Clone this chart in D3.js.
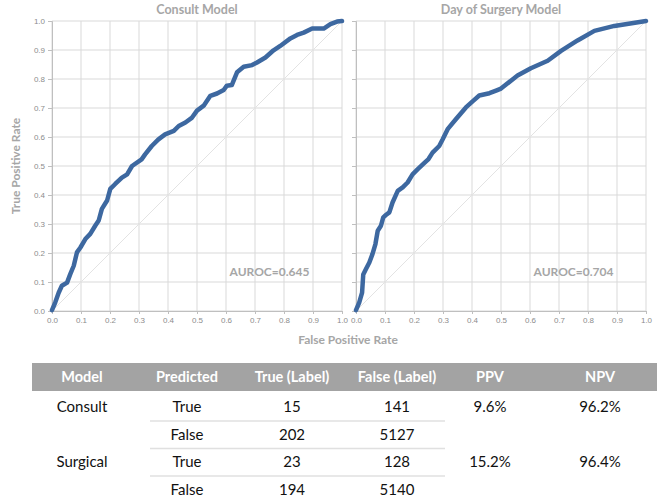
<!DOCTYPE html>
<html>
<head>
<meta charset="utf-8">
<script src="https://cdn.jsdelivr.net/npm/d3@7"></script>
<style>
  body { margin: 0; background: #fff; }
  svg { font-family: Lato, "Open Sans", sans-serif; }
</style>
</head>
<body>
<div id="chart"></div>
<script>
// ROC data
var consultFpr = [0, 0.011, 0.023, 0.034, 0.052, 0.063, 0.075, 0.086, 0.098, 0.115, 0.132, 0.149, 0.161, 0.172, 0.19, 0.201, 0.218, 0.241, 0.259, 0.276, 0.309, 0.321, 0.344, 0.367, 0.39, 0.42, 0.437, 0.46, 0.483, 0.5, 0.523, 0.546, 0.569, 0.592, 0.603, 0.62, 0.638, 0.661, 0.69, 0.707, 0.736, 0.764, 0.787, 0.822, 0.845, 0.868, 0.897, 0.937, 0.96, 0.983, 1.0];
var consultTpr = [0.003, 0.029, 0.063, 0.087, 0.098, 0.127, 0.156, 0.202, 0.219, 0.248, 0.266, 0.294, 0.312, 0.352, 0.381, 0.421, 0.438, 0.46, 0.471, 0.5, 0.523, 0.54, 0.569, 0.592, 0.609, 0.621, 0.638, 0.65, 0.667, 0.691, 0.708, 0.742, 0.75, 0.762, 0.777, 0.779, 0.823, 0.842, 0.848, 0.857, 0.874, 0.899, 0.914, 0.94, 0.952, 0.96, 0.974, 0.974, 0.989, 0.998, 1.0];

var surgeryFpr = [0, 0.011, 0.021, 0.025, 0.034, 0.046, 0.057, 0.067, 0.075, 0.086, 0.094, 0.103, 0.115, 0.126, 0.144, 0.161, 0.178, 0.195, 0.213, 0.235, 0.25, 0.264, 0.287, 0.299, 0.316, 0.345, 0.379, 0.402, 0.425, 0.46, 0.483, 0.5, 0.557, 0.603, 0.661, 0.707, 0.764, 0.822, 0.891, 1.0];
var surgeryTpr = [0.003, 0.029, 0.063, 0.126, 0.144, 0.167, 0.197, 0.231, 0.277, 0.294, 0.323, 0.331, 0.34, 0.374, 0.414, 0.426, 0.443, 0.471, 0.489, 0.51, 0.524, 0.546, 0.569, 0.592, 0.627, 0.662, 0.702, 0.723, 0.743, 0.751, 0.76, 0.767, 0.812, 0.837, 0.863, 0.897, 0.933, 0.966, 0.983, 1.0];

var chartTitles = ["Consult Model", "Day of Surgery Model"];
var aurocLabels = ["AUROC=0.645", "AUROC=0.704"];
var tickValues = [0, 0.1, 0.2, 0.3, 0.4, 0.5, 0.6, 0.7, 0.8, 0.9, 1.0];

// table
var tableHeaders = ["Model", "Predicted", "True (Label)", "False (Label)", "PPV", "NPV"];
var tableModels = ["Consult", "", "Surgical", ""];
var tablePredicted = ["True", "False", "True", "False"];
var tableTrueLabel = [15, 202, 23, 194];
var tableFalseLabel = [141, 5127, 128, 5140];
var tablePpv = ["9.6%", "", "15.2%", ""];
var tableNpv = ["96.2%", "", "96.4%", ""];

var W = 657, H = 498;
var grey = "#a6a6a6", gridColor = "#d9d9d9", lineColor = "#3d68a0";

var svg = d3.select("#chart").append("svg")
    .attr("width", W)
    .attr("height", H);

var plotW = 290, plotH = 290, plotTop = 21;
var plotLefts = [52, 356];
var series = [
  consultFpr.map(function (d, i) { return [d, consultTpr[i]]; }),
  surgeryFpr.map(function (d, i) { return [d, surgeryTpr[i]]; })
];

plotLefts.forEach(function (left, p) {
  var x = d3.scaleLinear().domain([0, 1]).range([0, plotW]);
  var y = d3.scaleLinear().domain([0, 1]).range([plotH, 0]);

  var g = svg.append("g")
      .attr("transform", "translate(" + left + "," + plotTop + ")");

  // grid
  g.selectAll(".vgrid").data(tickValues).enter().append("line")
      .attr("x1", function (d) { return x(d); })
      .attr("x2", function (d) { return x(d); })
      .attr("y1", 0).attr("y2", plotH)
      .attr("stroke", gridColor).attr("stroke-width", 1);
  g.selectAll(".hgrid").data(tickValues).enter().append("line")
      .attr("y1", function (d) { return y(d); })
      .attr("y2", function (d) { return y(d); })
      .attr("x1", 0).attr("x2", plotW)
      .attr("stroke", gridColor).attr("stroke-width", 1);

  // chance diagonal
  g.append("line")
      .attr("x1", x(0)).attr("y1", y(0))
      .attr("x2", x(1)).attr("y2", y(1))
      .attr("stroke", "#e3e3e3").attr("stroke-width", 1);

  // axes
  var xAxis = g.append("g")
      .attr("transform", "translate(0," + plotH + ")")
      .call(d3.axisBottom(x).tickValues(tickValues).tickFormat(d3.format(".1f")).tickSize(3));
  var yAxis = g.append("g")
      .call(d3.axisLeft(y).tickValues(tickValues)
        .tickFormat(p === 0 ? d3.format(".1f") : "").tickSize(4));
  [xAxis, yAxis].forEach(function (a) {
    a.select(".domain").attr("stroke", "#bfbfbf");
    a.selectAll(".tick line").attr("stroke", "#bfbfbf");
    a.selectAll(".tick text")
        .attr("fill", "#8c8c8c")
        .style("font-size", "8px");
  });

  // ROC curve
  var line = d3.line()
      .x(function (d) { return x(d[0]); })
      .y(function (d) { return y(d[1]); });
  g.append("path")
      .datum(series[p])
      .attr("d", line)
      .attr("fill", "none")
      .attr("stroke", lineColor)
      .attr("stroke-width", 4.5)
      .attr("stroke-linejoin", "round")
      .attr("stroke-linecap", "round");

  // title
  g.append("text")
      .attr("x", plotW / 2)
      .attr("y", -7)
      .attr("text-anchor", "middle")
      .attr("fill", grey)
      .style("font-size", "12.5px")
      .style("font-weight", "bold")
      .text(chartTitles[p]);

  g.append("text")
      .attr("x", x(0.75))
      .attr("y", y(0.135))
      .attr("text-anchor", "middle")
      .attr("dy", "0.35em")
      .attr("fill", grey)
      .style("font-size", "12px")
      .style("font-weight", "bold")
      .text(aurocLabels[p]);
});

// axis titles
svg.append("text")
    .attr("transform", "translate(20," + (plotTop + plotH / 2) + ") rotate(-90)")
    .attr("text-anchor", "middle")
    .attr("fill", grey)
    .style("font-size", "12px")
    .style("font-weight", "bold")
    .text("True Positive Rate");
svg.append("text")
    .attr("x", 348)
    .attr("y", 344)
    .attr("text-anchor", "middle")
    .attr("fill", grey)
    .style("font-size", "12px")
    .style("font-weight", "bold")
    .text("False Positive Rate");

// table
var colX = [82, 187, 292, 397, 490, 600];
var headerTop = 363, headerH = 28;
var rowY = [407, 435, 462, 490];

svg.append("rect")
    .attr("x", 32).attr("y", headerTop)
    .attr("width", W - 32).attr("height", headerH)
    .attr("fill", "#a3a3a3");

svg.selectAll(".th").data(tableHeaders).enter().append("text")
    .attr("x", function (d, i) { return colX[i]; })
    .attr("y", headerTop + headerH / 2)
    .attr("dy", "0.35em")
    .attr("text-anchor", "middle")
    .attr("fill", "#fff")
    .style("font-size", "14.5px")
    .style("font-weight", "bold")
    .text(function (d) { return d; });

// row separators
[0, 1, 2].forEach(function (i) {
  svg.append("line")
      .attr("x1", 150).attr("x2", 445)
      .attr("y1", (rowY[i] + rowY[i + 1]) / 2)
      .attr("y2", (rowY[i] + rowY[i + 1]) / 2)
      .attr("stroke", "#e0e0e0").attr("stroke-width", 1.5);
});

var columns = [tableModels, tablePredicted, tableTrueLabel, tableFalseLabel, tablePpv, tableNpv];
columns.forEach(function (col, c) {
  svg.selectAll(".cell" + c).data(col).enter().append("text")
      .attr("x", colX[c])
      .attr("y", function (d, i) { return rowY[i]; })
      .attr("dy", "0.35em")
      .attr("text-anchor", "middle")
      .attr("fill", "#111")
      .style("font-size", "15px")
      .text(function (d) { return d; });
});
</script>
</body>
</html>
